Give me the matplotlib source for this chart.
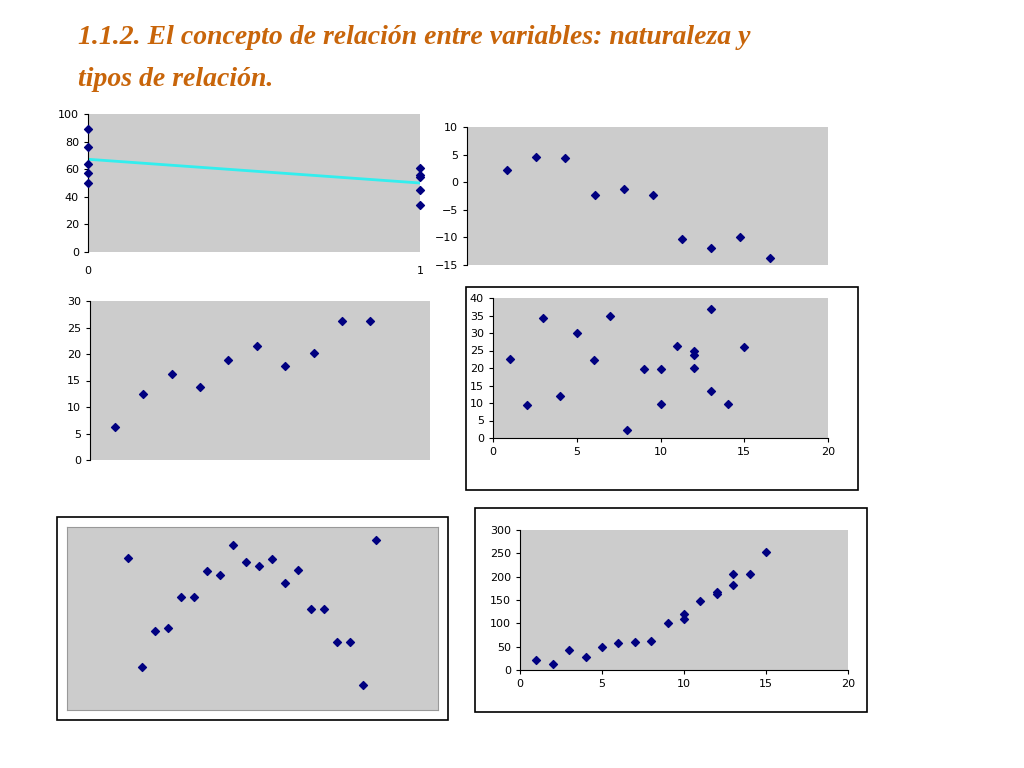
import matplotlib.pyplot as plt
from matplotlib.patches import Rectangle
import numpy as np

W, H = 1024, 768

# panel 1: two groups
p1_x = [0, 0, 0, 0, 0, 1, 1, 1, 1, 1]
p1_y = [89, 76, 64, 57, 50, 61, 56, 54, 45, 34]

# panel 2: negative trend
p2_x = [1, 2, 3, 4, 5, 6, 7, 8, 9, 10]
p2_y = [2.3, 4.5, 4.3, -2.4, -1.2, -2.4, -10.2, -11.9, -9.9, -13.8]

# panel 3: positive trend
p3_x = [1, 2, 3, 4, 5, 6, 7, 8, 9, 10]
p3_y = [6.2, 12.5, 16.3, 13.7, 18.8, 21.5, 17.8, 20.2, 26.2, 26.2]

# panel 4: no relation
p4_x = [1, 2, 3, 4, 5, 6, 7, 8, 9, 10, 10, 11, 12, 12, 12, 13, 13, 14, 15]
p4_y = [22.7, 9.5, 34.2, 12, 30, 22.3, 35, 2.2, 19.6, 19.6, 9.8, 26.3, 25, 23.8, 20, 37, 13.5, 9.8, 26]

# panel 5: curvilinear (no axis values shown)
p5_x = list(range(1, 21))
p5_y = [82.9, 23.5, 43.3, 45.0, 62.0, 62.0, 76.0, 73.6, 90.1, 81.1,
        78.9, 82.6, 69.5, 76.5, 55.4, 55.4, 36.9, 37.4, 13.6, 92.8]

# panel 6: exponential-like
p6_x = [1, 2, 3, 4, 5, 6, 7, 8, 9, 10, 10, 11, 12, 12, 13, 13, 14, 15]
p6_y = [22, 13, 43, 27, 50, 57, 59, 62, 101, 110, 120, 148, 163, 168, 182, 205, 205, 252]

fig = plt.figure(figsize=(W / 100, H / 100), dpi=100)
fig.patch.set_facecolor('white')

GREY = '#CCCCCC'
NAVY = '#000080'


def add_ax(x0, y0, x1, y1):
    ax = fig.add_axes([x0 / W, 1 - y1 / H, (x1 - x0) / W, (y1 - y0) / H])
    ax.set_facecolor(GREY)
    for s in ['top', 'right']:
        ax.spines[s].set_visible(False)
    ax.tick_params(labelsize=8, length=3, direction='out')
    return ax


def frame(x0, y0, x1, y1):
    fig.patches.append(Rectangle((x0 / W, 1 - y1 / H), (x1 - x0) / W, (y1 - y0) / H,
                                 transform=fig.transFigure, fill=False,
                                 edgecolor='black', linewidth=1.2))


def pts(ax, x, y):
    ax.scatter(x, y, marker='D', s=16, color=NAVY, zorder=3, clip_on=False)


# 1
ax1 = add_ax(88, 114, 420, 252)
pts(ax1, p1_x, p1_y)
m0 = np.mean([v for xx, v in zip(p1_x, p1_y) if xx == 0])
m1 = np.mean([v for xx, v in zip(p1_x, p1_y) if xx == 1])
ax1.plot([0, 1], [m0, m1], color='#33EEEE', lw=2, zorder=2)
ax1.set_xlim(0, 1)
ax1.set_ylim(0, 100)
ax1.set_xticks([0, 1])
ax1.set_yticks(range(0, 101, 20))
ax1.spines['bottom'].set_visible(False)
ax1.tick_params(axis='x', length=0, pad=10)

# 2
ax2 = add_ax(467, 127, 828, 265)
pts(ax2, p2_x, p2_y)
ax2.set_xlim(-0.37, 12.0)
ax2.set_ylim(-15, 10)
ax2.set_yticks(range(-15, 11, 5))
ax2.set_xticks([])
ax2.spines['bottom'].set_visible(False)

# 3
ax3 = add_ax(90, 301, 430, 460)
pts(ax3, p3_x, p3_y)
ax3.set_xlim(0.12, 12.1)
ax3.set_ylim(0, 30)
ax3.set_yticks(range(0, 31, 5))
ax3.set_xticks([])
ax3.spines['bottom'].set_visible(False)

# 4
frame(466, 287, 858, 490)
ax4 = add_ax(493, 298, 828, 438)
pts(ax4, p4_x, p4_y)
ax4.set_xlim(0, 20)
ax4.set_ylim(0, 40)
ax4.set_xticks(range(0, 21, 5))
ax4.set_yticks(range(0, 41, 5))

# 5
frame(57, 517, 448, 720)
ax5 = add_ax(67, 527, 438, 710)
pts(ax5, p5_x, p5_y)
ax5.set_xlim(-3.72, 24.76)
ax5.set_ylim(0, 100)
ax5.set_xticks([])
ax5.set_yticks([])
for s in ax5.spines.values():
    s.set_visible(True)
    s.set_color('#999999')

# 6
frame(475, 508, 867, 712)
ax6 = add_ax(520, 530, 848, 670)
pts(ax6, p6_x, p6_y)
ax6.set_xlim(0, 20)
ax6.set_ylim(0, 300)
ax6.set_xticks(range(0, 21, 5))
ax6.set_yticks(range(0, 301, 50))

fig.text(78 / W, 1 - 38 / H, '1.1.2. El concepto de relación entre variables: naturaleza y',
         fontsize=20, family='Liberation Serif', weight='bold', style='italic',
         color='#C8650A', va='center')
fig.text(78 / W, 1 - 80 / H, 'tipos de relación.',
         fontsize=20, family='Liberation Serif', weight='bold', style='italic',
         color='#C8650A', va='center')

fig.savefig('out.png', dpi=100, facecolor='white')
